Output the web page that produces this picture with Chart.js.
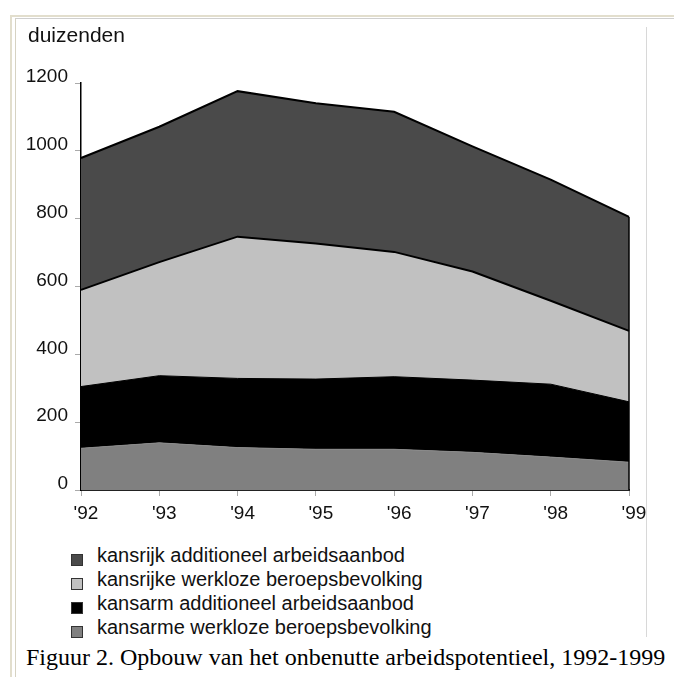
<!DOCTYPE html>
<html>
<head>
<meta charset="utf-8">
<script src="https://cdn.jsdelivr.net/npm/chart.js@4.4.1/dist/chart.umd.min.js"></script>
<style>
    body { margin: 0; background: #fff; width: 674px; height: 677px; position: relative; overflow: hidden; font-family: "Liberation Sans", Arial, sans-serif; }
    .frame1 { position: absolute; left: 10px; top: 15px; width: 700px; height: 700px; border-left: 2px solid #e2decd; border-top: 2px solid #e2decd; }
    .frame2 { position: absolute; left: 15px; top: 18px; width: 700px; height: 700px; border-left: 1px solid #d6d2c2; border-top: 1px solid #cfcfcf; }
    .rline { position: absolute; left: 646px; top: 27px; width: 1px; height: 610px; background: #d8d8d8; }
    #chart { position: absolute; left: 0; top: 0; }
    .unit { position: absolute; left: 28px; top: 23px; font-size: 21px; line-height: 24px; color: #111; }
    .leg { position: absolute; left: 97px; font-size: 20px; line-height: 24px; color: #111; white-space: nowrap; }
    .sq { position: absolute; left: 71px; width: 10px; height: 10px; border: 1px solid #333; }
    .caption { position: absolute; left: 26px; top: 643px; font-family: "Liberation Serif", "Times New Roman", serif; font-size: 24px; line-height: 28px; color: #000; white-space: nowrap; }
</style>
</head>
<body>
<div class="frame1"></div>
<div class="frame2"></div>
<div class="rline"></div>
<canvas id="chart" width="674" height="530"></canvas>
<div class="unit">duizenden</div>
<div id="legend"></div>
<div class="caption">Figuur 2. Opbouw van het onbenutte arbeidspotentieel, 1992-1999</div>

<script>
// jaren
const years = ["'92", "'93", "'94", "'95", "'96", "'97", "'98", "'99"];

// waarden in duizenden, van onder naar boven gestapeld
const kansarmeWerkloos = [123, 139, 125, 120, 120, 111, 97, 82];
const kansarmAdditioneel = [182, 198, 204, 207, 214, 213, 215, 178];
const kansrijkeWerkloos = [285, 335, 418, 400, 368, 320, 246, 209];
const kansrijkAdditioneel = [389, 399, 429, 413, 413, 369, 357, 336];

const yTicks = [0, 200, 400, 600, 800, 1000, 1200];

const seriesNames = [
    'kansarme werkloze beroepsbevolking',
    'kansarm additioneel arbeidsaanbod',
    'kansrijke werkloze beroepsbevolking',
    'kansrijk additioneel arbeidsaanbod'
];
const fills = ['#808080', '#000000', '#c1c1c1', '#4a4a4a'];
const lines = ['#8a8a8a', '#000000', '#000000', '#000000'];
const lineWidths = [1, 1, 2, 2];

// verticale rand rechts, van de bovenkant van de stapel tot de as
const rightEdge = {
    id: 'rightEdge',
    afterDatasetsDraw(chart) {
        const top = chart.getDatasetMeta(3).data;
        const last = top[top.length - 1];
        const ctx = chart.ctx;
        ctx.save();
        ctx.strokeStyle = '#000';
        ctx.lineWidth = 1.5;
        ctx.beginPath();
        ctx.moveTo(last.x, last.y);
        ctx.lineTo(last.x, chart.chartArea.bottom);
        ctx.stroke();
        ctx.restore();
    }
};

const datasets = [kansarmeWerkloos, kansarmAdditioneel, kansrijkeWerkloos, kansrijkAdditioneel].map((d, i) => ({
    label: seriesNames[i],
    data: d,
    backgroundColor: fills[i],
    borderColor: lines[i],
    borderWidth: lineWidths[i],
    fill: i === 0 ? 'origin' : '-1',
    pointRadius: 0,
    tension: 0
}));

const ctx = document.getElementById('chart').getContext('2d');
new Chart(ctx, {
    type: 'line',
    data: { labels: years, datasets: datasets },
    options: {
        responsive: false,
        animation: false,
        layout: { padding: { top: 83, right: 45, left: 0, bottom: 0 } },
        plugins: { legend: { display: false }, tooltip: { enabled: false } },
        scales: {
            x: {
                offset: false,
                grid: { drawOnChartArea: false, drawTicks: true, tickLength: 6, color: '#aaa' },
                border: { color: '#222', width: 2 },
                ticks: { color: '#111', font: { family: 'Liberation Sans', size: 19 }, padding: 6, labelOffset: 5, maxRotation: 0, autoSkip: false },
                afterFit: (scale) => { scale.height = 40; }
            },
            y: {
                stacked: true,
                min: 0,
                max: 1200,
                afterBuildTicks: (scale) => { scale.ticks = yTicks.map(v => ({ value: v })); },
                grid: { drawOnChartArea: false, drawTicks: true, tickLength: 6, color: '#aaa' },
                border: { color: '#000', width: 1.5 },
                ticks: {
                    color: '#111',
                    font: { family: 'Liberation Sans', size: 19 },
                    padding: 7,
                    labelOffset: -6,
                    callback: (value) => String(value)
                },
                afterFit: (scale) => { scale.width = 81; }
            }
        }
    },
    plugins: [rightEdge]
});

// legenda, bovenste laag eerst
const legend = document.getElementById('legend');
[3, 2, 1, 0].forEach((idx, row) => {
    const baseline = 562 + row * 24;
    const sq = document.createElement('div');
    sq.className = 'sq';
    sq.style.top = (baseline - 8) + 'px';
    sq.style.background = fills[idx];
    legend.appendChild(sq);
    const t = document.createElement('div');
    t.className = 'leg';
    t.style.top = (baseline - 19) + 'px';
    t.textContent = seriesNames[idx];
    legend.appendChild(t);
});
</script>
</body>
</html>
